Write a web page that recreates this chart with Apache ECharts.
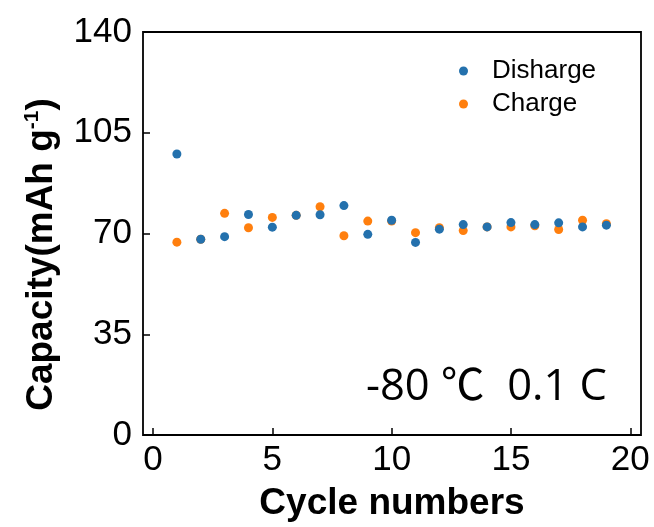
<!DOCTYPE html>
<html><head><meta charset="utf-8">
<script src="https://cdn.jsdelivr.net/npm/echarts@6/dist/echarts.min.js"></script>
<style>html,body{margin:0;padding:0;background:#fff}#c{width:654px;height:527px}</style>
</head><body><div id="c"></div>
<script>
const cycles = [1,2,3,4,5,6,7,8,9,10,11,12,13,14,15,16,17,18,19];
const discharge = [97.6,68.0,68.9,76.6,72.2,76.3,76.5,79.7,69.7,74.6,66.9,71.5,73.1,72.3,73.8,73.1,73.7,72.3,72.9];
const charge = [67.0,68.0,77.0,72.0,75.6,76.3,79.3,69.2,74.3,74.3,70.3,72.0,71.0,72.3,72.3,72.7,71.4,74.6,73.4];
const xTicks = [0,5,10,15,20];
const yTicks = [0,35,70,105,140];
const seriesNames = ['Disharge','Charge'];
const colors = ['#2471ad','#ff7f0e'];

const font = 'Liberation Sans, Arial, sans-serif';
const chart = echarts.init(document.getElementById('c'), null, {renderer:'canvas'});
chart.setOption({
  animation:false,
  backgroundColor:'#fff',
  grid:{left:143,top:32,right:13,bottom:92,show:true,borderColor:'#000',borderWidth:1.8,backgroundColor:'transparent'},
  legend:{
    data:[{name:seriesNames[0]},{name:seriesNames[1]}],
    orient:'vertical', left:454, top:53, itemWidth:9, itemHeight:9, itemGap:7,
    icon:'circle',
    textStyle:{fontFamily:font,fontSize:26,color:'#000',padding:[0,0,0,19]}
  },
  xAxis:{
    type:'value', min:-0.42, max:20.45,
    axisLine:{show:false,onZero:false},
    splitLine:{show:false},
    axisTick:{show:true,inside:true,length:7,lineStyle:{color:'#000',width:1.5},customValues:xTicks},
    axisLabel:{fontFamily:font,fontSize:35,color:'#000',margin:8,customValues:xTicks},
    name:'Cycle numbers', nameLocation:'middle', nameGap:50,
    nameTextStyle:{fontFamily:font,fontSize:37,fontWeight:'bold',color:'#000'}
  },
  yAxis:{
    type:'value', min:0, max:140, interval:35,
    axisLine:{show:false,onZero:false},
    splitLine:{show:false},
    axisTick:{show:true,inside:true,length:7,lineStyle:{color:'#000',width:1.5}},
    axisLabel:{fontFamily:font,fontSize:35,color:'#000',margin:11},
    name:'{a|Capacity(mAh g}{s|-1}{a|)}', nameLocation:'middle', nameGap:82,
    nameTextStyle:{padding:[0,42,0,0],rich:{
      a:{fontFamily:font,fontSize:37,fontWeight:'bold',color:'#000'},
      s:{fontFamily:font,fontSize:21,fontWeight:'bold',color:'#000',verticalAlign:'top',padding:[0,0,18,0]}
    }}
  },
  series:[
    {name:seriesNames[1],type:'scatter',symbolSize:9,itemStyle:{color:colors[1],opacity:1},z:2,
     data:cycles.map((c,i)=>[c,charge[i]])},
    {name:seriesNames[0],type:'scatter',symbolSize:9,itemStyle:{color:colors[0],opacity:1},z:3,
     data:cycles.map((c,i)=>[c,discharge[i]])}
  ],
  graphic:[{type:'text',left:366,top:366,style:{text:'-80 ℃  0.1 C',fontFamily:'Open Sans, Noto Sans CJK SC, sans-serif',fontSize:43.5,fill:'#000'}}]
});
</script></body></html>
